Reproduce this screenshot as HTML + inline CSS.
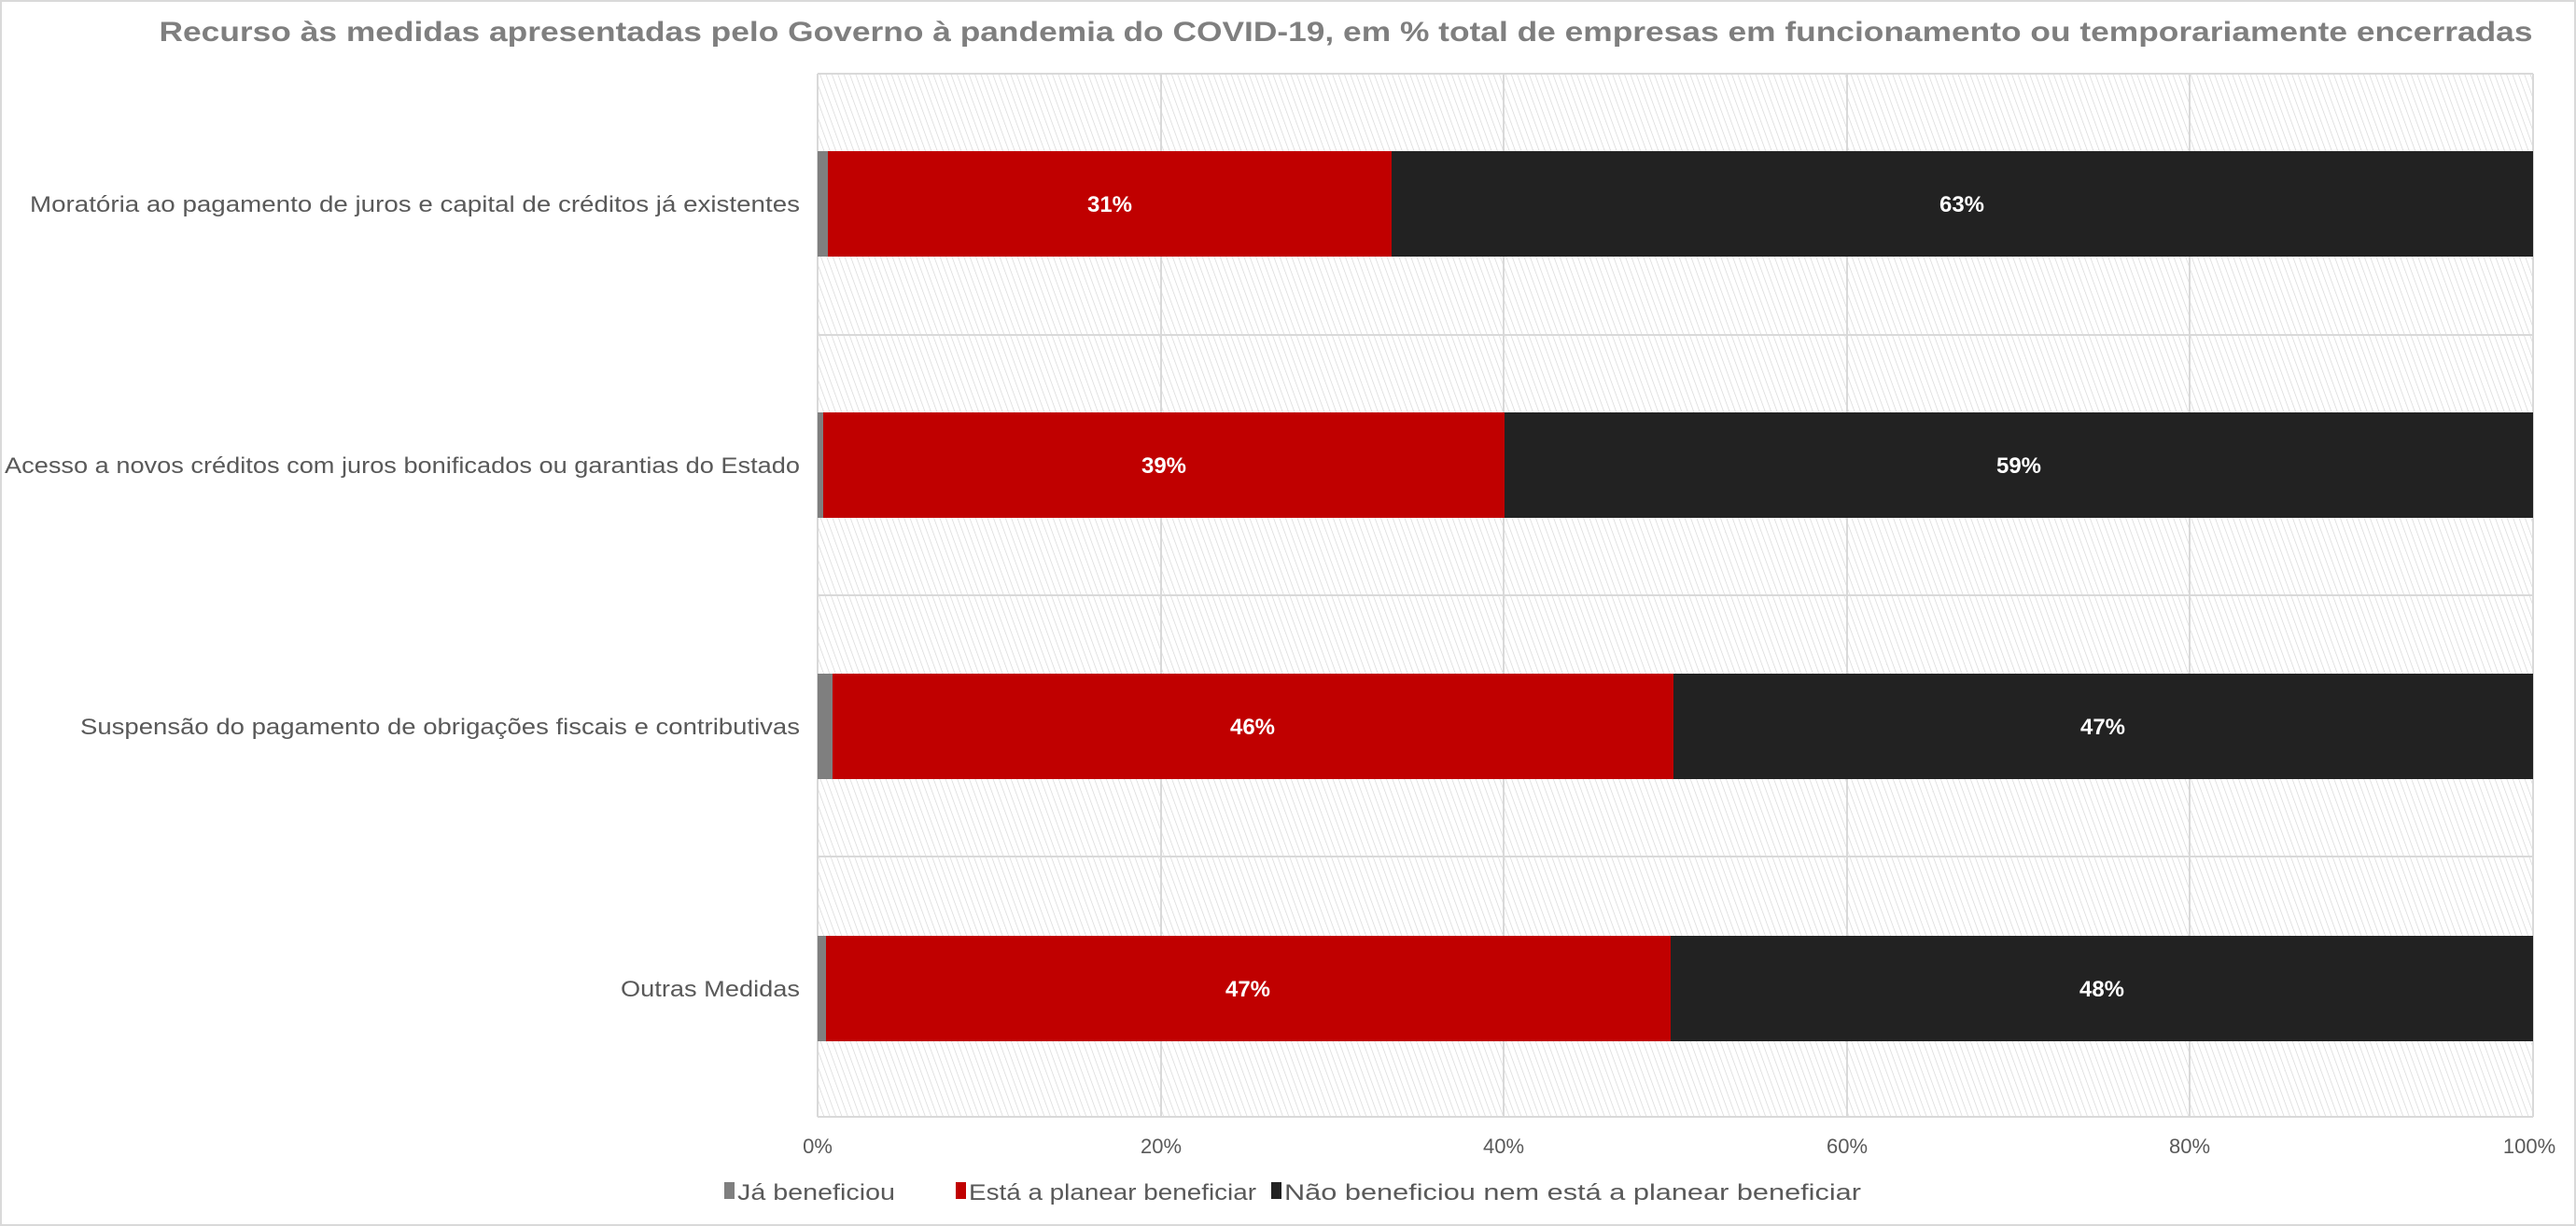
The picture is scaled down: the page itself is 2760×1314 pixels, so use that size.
<!DOCTYPE html>
<html><head><meta charset="utf-8"><style>html,body{margin:0;padding:0;background:#fff}svg{display:block}</style></head>
<body>
<svg width="2760" height="1314" xmlns="http://www.w3.org/2000/svg" font-family="Liberation Sans, sans-serif">
<defs>
<pattern id="h" width="6" height="6" patternUnits="userSpaceOnUse" patternTransform="rotate(-20)">
<rect width="6" height="6" fill="#fff"/><line x1="0" y1="0" x2="0" y2="6" stroke="#d4d4d4" stroke-width="1.3"/>
</pattern>
</defs>
<rect x="1" y="1" width="2758" height="1312" fill="#fff" stroke="#d9d9d9" stroke-width="2"/>
<text x="1442" y="44" text-anchor="middle" font-size="30" font-weight="bold" fill="#7f7f7f" textLength="2543" lengthAdjust="spacingAndGlyphs">Recurso às medidas apresentadas pelo Governo à pandemia do COVID-19, em % total de empresas em funcionamento ou temporariamente encerradas</text>
<rect x="876" y="79" width="1838" height="1118" fill="url(#h)"/>
<g stroke="#d9d9d9" stroke-width="2">
<line x1="876" y1="79" x2="2714" y2="79"/>
<line x1="876" y1="1197" x2="2714" y2="1197"/>
<line x1="876" y1="359" x2="2714" y2="359"/>
<line x1="876" y1="638" x2="2714" y2="638"/>
<line x1="876" y1="918" x2="2714" y2="918"/>
<line x1="876" y1="79" x2="876" y2="1197"/>
<line x1="1244" y1="79" x2="1244" y2="1197"/>
<line x1="1611" y1="79" x2="1611" y2="1197"/>
<line x1="1979" y1="79" x2="1979" y2="1197"/>
<line x1="2346" y1="79" x2="2346" y2="1197"/>
<line x1="2714" y1="79" x2="2714" y2="1197"/>
</g>
<g>
<rect x="876" y="162" width="11" height="113" fill="#7f7f7f"/><rect x="887" y="162" width="604" height="113" fill="#c00000"/><rect x="1491" y="162" width="1223" height="113" fill="#222"/>
<rect x="876" y="442" width="6" height="113" fill="#7f7f7f"/><rect x="882" y="442" width="730" height="113" fill="#c00000"/><rect x="1612" y="442" width="1102" height="113" fill="#222"/>
<rect x="876" y="722" width="16" height="113" fill="#7f7f7f"/><rect x="892" y="722" width="901" height="113" fill="#c00000"/><rect x="1793" y="722" width="921" height="113" fill="#222"/>
<rect x="876" y="1003" width="9" height="113" fill="#7f7f7f"/><rect x="885" y="1003" width="905" height="113" fill="#c00000"/><rect x="1790" y="1003" width="924" height="113" fill="#222"/>
</g>
<g fill="#fff" font-weight="bold" font-size="24" text-anchor="middle">
<text x="1189" y="227">31%</text><text x="2102" y="227">63%</text>
<text x="1247" y="507">39%</text><text x="2163" y="507">59%</text>
<text x="1342" y="787">46%</text><text x="2253" y="787">47%</text>
<text x="1337" y="1068">47%</text><text x="2252" y="1068">48%</text>
</g>
<g fill="#595959" font-size="24" text-anchor="end">
<text x="857" y="227" textLength="825" lengthAdjust="spacingAndGlyphs">Moratória ao pagamento de juros e capital de créditos já existentes</text>
<text x="857" y="507" textLength="852" lengthAdjust="spacingAndGlyphs">Acesso a novos créditos com juros bonificados ou garantias do Estado</text>
<text x="857" y="787" textLength="771" lengthAdjust="spacingAndGlyphs">Suspensão do pagamento de obrigações fiscais e contributivas</text>
<text x="857" y="1068" textLength="192" lengthAdjust="spacingAndGlyphs">Outras Medidas</text>
</g>
<g fill="#595959" font-size="22" text-anchor="middle">
<text x="876" y="1236">0%</text><text x="1244" y="1236">20%</text><text x="1611" y="1236">40%</text><text x="1979" y="1236">60%</text><text x="2346" y="1236">80%</text><text x="2710" y="1236">100%</text>
</g>
<g font-size="24" fill="#595959">
<rect x="776" y="1267" width="11" height="18" fill="#7f7f7f"/><text x="790" y="1286" textLength="169" lengthAdjust="spacingAndGlyphs">Já beneficiou</text>
<rect x="1024" y="1267" width="11" height="18" fill="#c00000"/><text x="1038" y="1286" textLength="308" lengthAdjust="spacingAndGlyphs">Está a planear beneficiar</text>
<rect x="1362" y="1267" width="11" height="18" fill="#222"/><text x="1376" y="1286" textLength="618" lengthAdjust="spacingAndGlyphs">Não beneficiou nem está a planear beneficiar</text>
</g>
</svg>
</body></html>
